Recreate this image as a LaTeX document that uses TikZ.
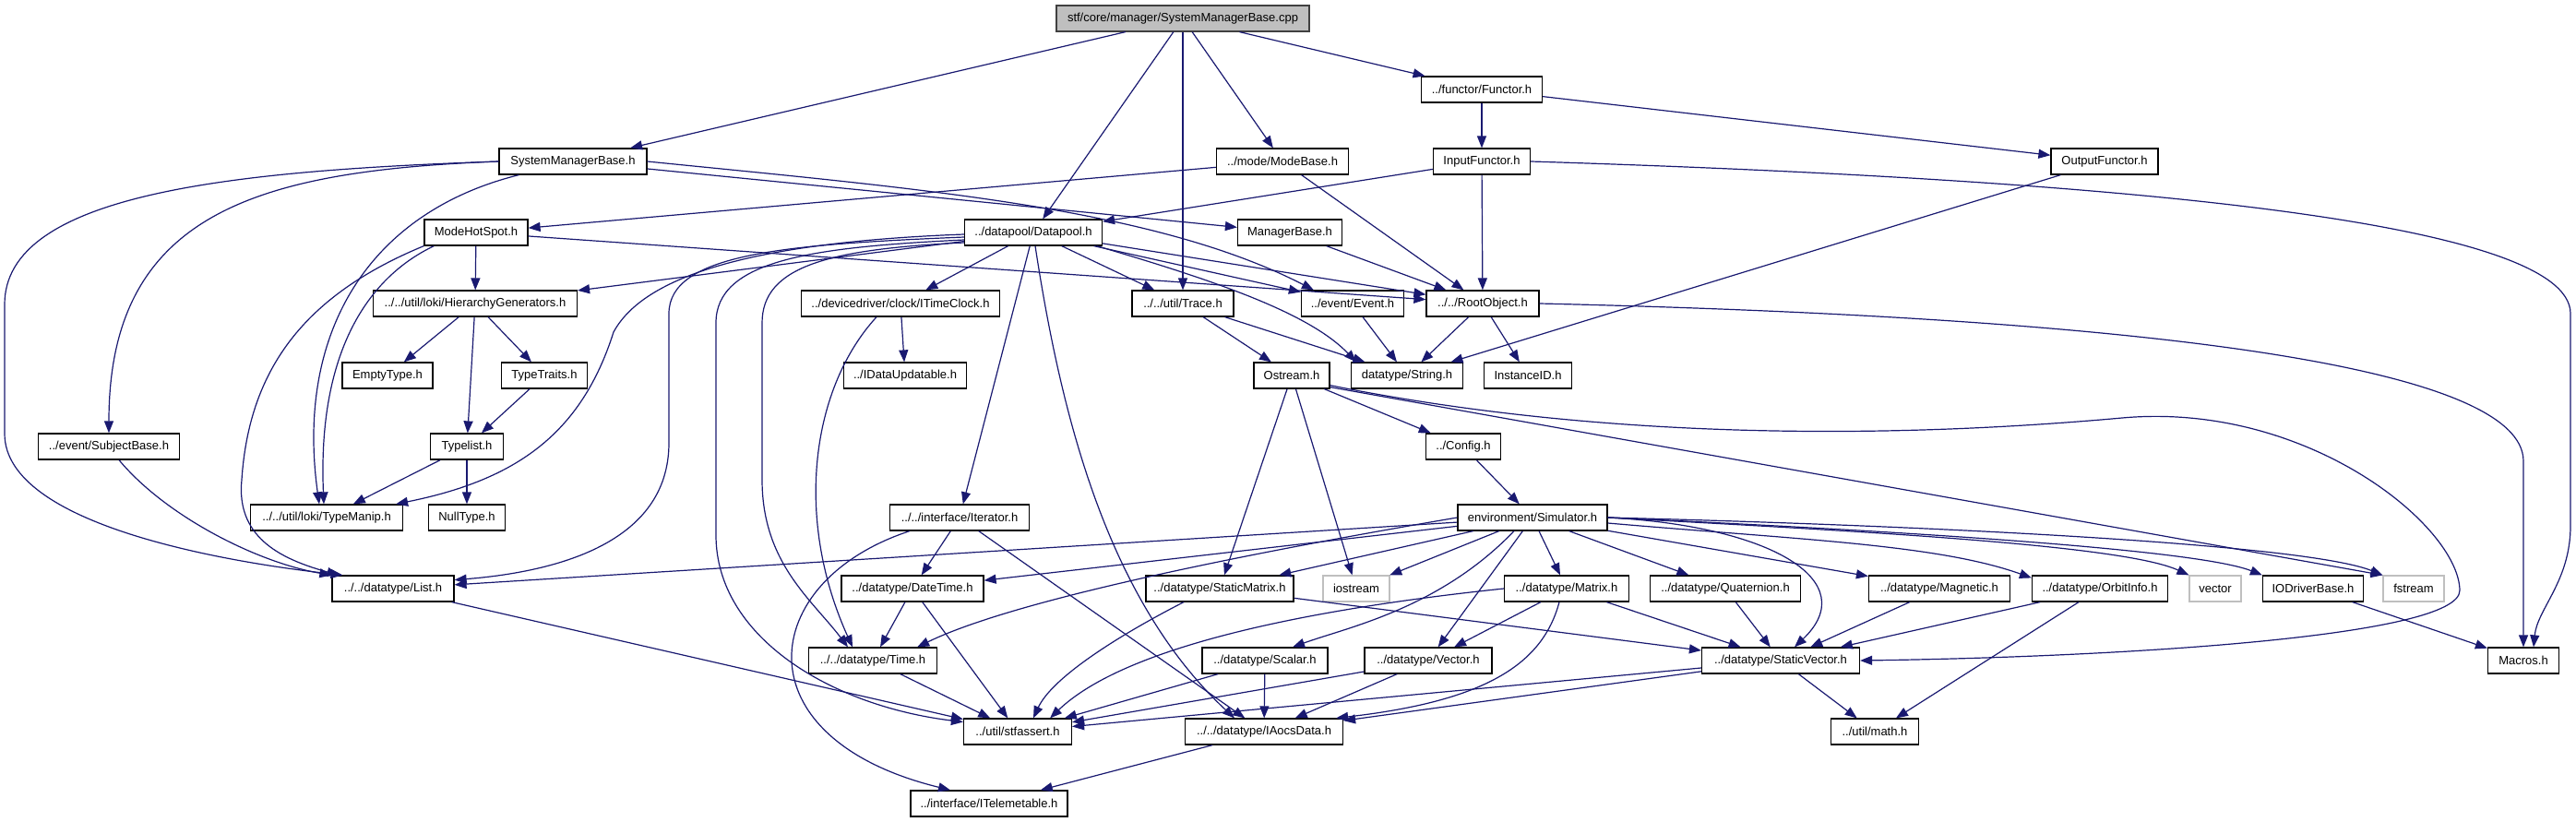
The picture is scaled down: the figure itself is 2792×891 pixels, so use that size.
\documentclass[tikz,border=0pt]{standalone}
\usepackage{fontspec}
\setmainfont{Liberation Sans}
\usetikzlibrary{arrows.meta}
\definecolor{edgec}{HTML}{191970}
\definecolor{grayb}{HTML}{BFBFBF}
\begin{document}
\begin{tikzpicture}[x=1pt,y=-1pt,
  box/.style={draw=black, line width=1.2pt, fill=white, minimum height=28pt, inner sep=0pt, font=\fontsize{13}{15}\selectfont},
  extbox/.style={box, draw=grayb},
  mainbox/.style={box, fill=grayb, draw=black!75},
  conn/.style={draw=edgec, line width=1.2pt, -{Triangle[length=13pt,width=10pt]}},
]
\useasboundingbox (0,0) rectangle (2792,891);
% ---------- nodes ----------
\node[mainbox, minimum width=274] (top) at (1282,20) {stf/core/manager/SystemManagerBase.cpp};
\node[box, minimum width=131] (functor) at (1606,97) {../functor/Functor.h};
\node[box, minimum width=160] (smb) at (621,175) {SystemManagerBase.h};
\node[box, minimum width=143] (modebase) at (1390,175) {../mode/ModeBase.h};
\node[box, minimum width=105] (input) at (1606,175) {InputFunctor.h};
\node[box, minimum width=116] (output) at (2281,175) {OutputFunctor.h};
\node[box, minimum width=112] (hotspot) at (516,252) {ModeHotSpot.h};
\node[box, minimum width=149] (datapool) at (1120,252) {../datapool/Datapool.h};
\node[box, minimum width=113] (manager) at (1398,252) {ManagerBase.h};
\node[box, minimum width=221] (hier) at (515,329) {../../util/loki/HierarchyGenerators.h};
\node[box, minimum width=215] (itime) at (976,329) {../devicedriver/clock/ITimeClock.h};
\node[box, minimum width=110] (trace) at (1282,329) {../../util/Trace.h};
\node[box, minimum width=111] (event) at (1466,329) {../event/Event.h};
\node[box, minimum width=122] (root) at (1607,329) {../../RootObject.h};
\node[box, minimum width=98] (empty) at (420,407) {EmptyType.h};
\node[box, minimum width=93] (traits) at (590,407) {TypeTraits.h};
\node[box, minimum width=133] (idata) at (981,407) {../IDataUpdatable.h};
\node[box, minimum width=82] (ostream) at (1400,407) {Ostream.h};
\node[box, minimum width=121] (string) at (1525,407) {datatype/String.h};
\node[box, minimum width=95] (instance) at (1656,407) {InstanceID.h};
\node[box, minimum width=153] (subject) at (118,484) {../event/SubjectBase.h};
\node[box, minimum width=79] (typelist) at (506,484) {Typelist.h};
\node[box, minimum width=81] (config) at (1586,484) {../Config.h};
\node[box, minimum width=165] (typemanip) at (354,561) {../../util/loki/TypeManip.h};
\node[box, minimum width=83] (nulltype) at (506,561) {NullType.h};
\node[box, minimum width=151] (iterator) at (1040,561) {../../interface/Iterator.h};
\node[box, minimum width=162] (sim) at (1661,561) {environment/Simulator.h};
\node[box, minimum width=132] (list) at (426,638) {../../datatype/List.h};
\node[box, minimum width=154] (datetime) at (989,638) {../datatype/DateTime.h};
\node[box, minimum width=160] (smatrix) at (1322,638) {../datatype/StaticMatrix.h};
\node[extbox, minimum width=72] (iostream) at (1470,638) {iostream};
\node[box, minimum width=135] (matrix) at (1698,638) {../datatype/Matrix.h};
\node[box, minimum width=163] (quat) at (1870,638) {../datatype/Quaternion.h};
\node[box, minimum width=153] (magnetic) at (2102,638) {../datatype/Magnetic.h};
\node[box, minimum width=147] (orbit) at (2276,638) {../datatype/OrbitInfo.h};
\node[extbox, minimum width=56] (vectorstd) at (2401,638) {vector};
\node[box, minimum width=109] (iodriver) at (2507,638) {IODriverBase.h};
\node[extbox, minimum width=66] (fstream) at (2616,638) {fstream};
\node[box, minimum width=139] (time) at (946,716) {../../datatype/Time.h};
\node[box, minimum width=136] (scalar) at (1371,716) {../datatype/Scalar.h};
\node[box, minimum width=138] (vec) at (1548,716) {../datatype/Vector.h};
\node[box, minimum width=171] (svector) at (1930,716) {../datatype/StaticVector.h};
\node[box, minimum width=77] (macros) at (2735,716) {Macros.h};
\node[box, minimum width=117] (stfassert) at (1103,793) {../util/stfassert.h};
\node[box, minimum width=171] (iaocs) at (1370,793) {../../datatype/IAocsData.h};
\node[box, minimum width=95] (math) at (2032,793) {../util/math.h};
\node[box, minimum width=170] (itele) at (1072,871) {../interface/ITelemetable.h};
% ---------- edges ----------
% top
\draw[conn] (top) -- (smb);
\draw[conn] (top) -- (datapool);
\draw[conn] (top) -- (trace);
\draw[conn] (top) -- (modebase);
\draw[conn] (top) -- (functor);
\draw[conn] (functor) -- (input);
\draw[conn] (functor) -- (output);
% SystemManagerBase.h
\draw[conn] (smb) -- (manager);
\draw[conn] (smb.east) .. controls (1000,205) and (1250,225) .. ([xshift=14pt]event.north west);
\draw[conn] (smb.west) .. controls (280,185) and (118,230) .. (subject.north);
\draw[conn] (smb.west) .. controls (250,185) and (5,210) .. (5,330) -- (5,470) .. controls (5,570) and (250,610) .. (list.165);
\draw[conn] ([xshift=22pt]smb.south west) .. controls (400,230) and (320,360) .. ([xshift=-8pt]typemanip.north);
% ModeBase / InputFunctor / OutputFunctor / ManagerBase
\draw[conn] (modebase) -- (hotspot);
\draw[conn] (modebase) -- (root);
\draw[conn] (input) -- (datapool);
\draw[conn] (input) -- (root);
\draw[conn] (input.east) .. controls (2300,195) and (2786,240) .. (2786,340) -- (2786,570) .. controls (2786,630) and (2750,660) .. ([xshift=11pt]macros.north);
\draw[conn] (output) -- (string);
\draw[conn] (manager) -- (root);
% ModeHotSpot.h
\draw[conn] (hotspot) -- (hier);
\draw[conn] (hotspot) -- (root);
\draw[conn] ([xshift=11pt]hotspot.south west) .. controls (400,300) and (344,380) .. ([xshift=-3pt]typemanip.north);
\draw[conn] (hotspot.south west) .. controls (330,320) and (270,400) .. (262,520) .. controls (256,580) and (300,605) .. ([xshift=8pt]list.north west);
% Datapool.h
\draw[conn] (datapool) -- (itime);
\draw[conn] (datapool) -- (trace);
\draw[conn] (datapool) -- (event);
\draw[conn] (datapool) -- (root);
\draw[conn] (datapool.-12) .. controls (1320,305) and (1420,340) .. ([xshift=6pt]string.north west);
\draw[conn] (datapool) -- (hier);
\draw[conn] ([yshift=-2pt]datapool.west) .. controls (830,262) and (700,295) .. (665,360) .. controls (630,470) and (560,520) .. ([xshift=-8pt]typemanip.north east);
\draw[conn] ([yshift=-5pt]datapool.west) .. controls (850,265) and (725,275) .. (725,340) -- (725,480) .. controls (725,590) and (600,620) .. (list.8);
\draw[conn] ([yshift=-8pt]datapool.west) .. controls (880,268) and (776,282) .. (776,350) -- (776,580) .. controls (776,690) and (900,765) .. (stfassert.170);
\draw[conn] ([yshift=-11pt]datapool.west) .. controls (900,270) and (826,288) .. (826,350) -- (826,520) .. controls (826,610) and (880,650) .. ([xshift=-27pt]time.north);
\draw[conn] (datapool) -- (iterator);
\draw[conn] ([xshift=2pt]datapool.south) .. controls (1150,450) and (1200,650) .. ([xshift=-32pt]iaocs.north);
% Trace / Event / RootObject
\draw[conn] (trace) -- (ostream);
\draw[conn] (trace) -- (string);
\draw[conn] (event) -- (string);
\draw[conn] (root) -- (string);
\draw[conn] (root) -- (instance);
\draw[conn] (root.east) .. controls (2350,345) and (2735,400) .. (2735,500) -- (macros.north);
% ITimeClock / loki
\draw[conn] (itime) -- (idata);
\draw[conn] ([xshift=-26pt]itime.south) .. controls (880,420) and (860,560) .. ([xshift=-22pt]time.north);
\draw[conn] (hier) -- (empty);
\draw[conn] (hier) -- (traits);
\draw[conn] (hier) -- (typelist);
\draw[conn] (traits) -- (typelist);
\draw[conn] (typelist) -- (typemanip);
\draw[conn] (typelist) -- (nulltype);
\draw[conn] ([xshift=11pt]subject.south) .. controls (180,560) and (280,610) .. (list.north west);
\draw[conn] (list) -- (stfassert);
% Ostream.h
\draw[conn] (ostream) -- (config);
\draw[conn] (ostream) -- (iostream);
\draw[conn] (ostream) -- (smatrix);
\draw[conn] ([yshift=2pt]ostream.south east) -- (fstream.north west);
\draw[conn] ([yshift=4pt]ostream.south east) .. controls (1700,470) and (2000,480) .. (2300,453) .. controls (2500,435) and (2665,570) .. (2666,640) .. controls (2666,690) and (2300,712) .. (svector.east);
\draw[conn] (config) -- (sim);
% Simulator.h
\draw[conn] (sim) -- (list);
\draw[conn] (sim) -- (datetime);
\draw[conn] (sim.west) .. controls (1350,600) and (1100,650) .. ([xshift=-22pt]time.north east);
\draw[conn] (sim) -- (smatrix);
\draw[conn] (sim) -- (iostream);
\draw[conn] ([xshift=-20pt]sim.south) .. controls (1560,660) and (1460,680) .. ([xshift=30pt]scalar.north);
\draw[conn] (sim) -- (vec);
\draw[conn] (sim) -- (matrix);
\draw[conn] (sim) -- (quat);
\draw[conn] (sim) -- (magnetic);
\draw[conn] (sim.east) .. controls (1920,570) and (2020,630) .. ([xshift=15pt]svector.north);
\draw[conn] ([yshift=-6pt]sim.east) .. controls (1950,585) and (2100,590) .. ([yshift=-3pt]orbit.north west);
\draw[conn] (sim.east) .. controls (2000,575) and (2300,590) .. (vectorstd.north west);
\draw[conn] (sim.east) .. controls (2050,575) and (2380,595) .. (iodriver.north west);
\draw[conn] (sim.east) .. controls (2100,570) and (2500,590) .. (fstream.north west);
% datatypes
\draw[conn] (matrix) -- (vec);
\draw[conn] (matrix) -- (svector);
\draw[conn] ([xshift=-8pt]matrix.south) .. controls (1672,720) and (1610,760) .. ([xshift=-8pt]iaocs.north east);
\draw[conn] (matrix.west) .. controls (1420,660) and (1220,700) .. ([xshift=-24pt]stfassert.north east);
\draw[conn] (scalar) -- (stfassert);
\draw[conn] (scalar) -- (iaocs);
\draw[conn] (vec) -- (stfassert);
\draw[conn] (vec) -- (iaocs);
\draw[conn] (svector) -- (stfassert);
\draw[conn] (svector) -- (iaocs);
\draw[conn] (svector) -- (math);
\draw[conn] (quat) -- (svector);
\draw[conn] (magnetic) -- (svector);
\draw[conn] (orbit) -- (svector);
\draw[conn] (orbit) -- (math);
\draw[conn] (iodriver) -- (macros);
\draw[conn] ([xshift=-39pt]smatrix.south) .. controls (1210,690) and (1140,735) .. ([xshift=17pt]stfassert.north);
\draw[conn] (smatrix) -- (svector);
\draw[conn] (datetime) -- (time);
\draw[conn] (datetime) -- (stfassert);
\draw[conn] (time) -- (stfassert);
\draw[conn] (iterator) -- (datetime);
\draw[conn] (iterator) -- (iaocs);
\draw[conn] ([xshift=-54pt]iterator.south) .. controls (820,630) and (800,800) .. ([xshift=-42pt]itele.north);
\draw[conn] (iaocs) -- (itele);
\end{tikzpicture}
\end{document}
